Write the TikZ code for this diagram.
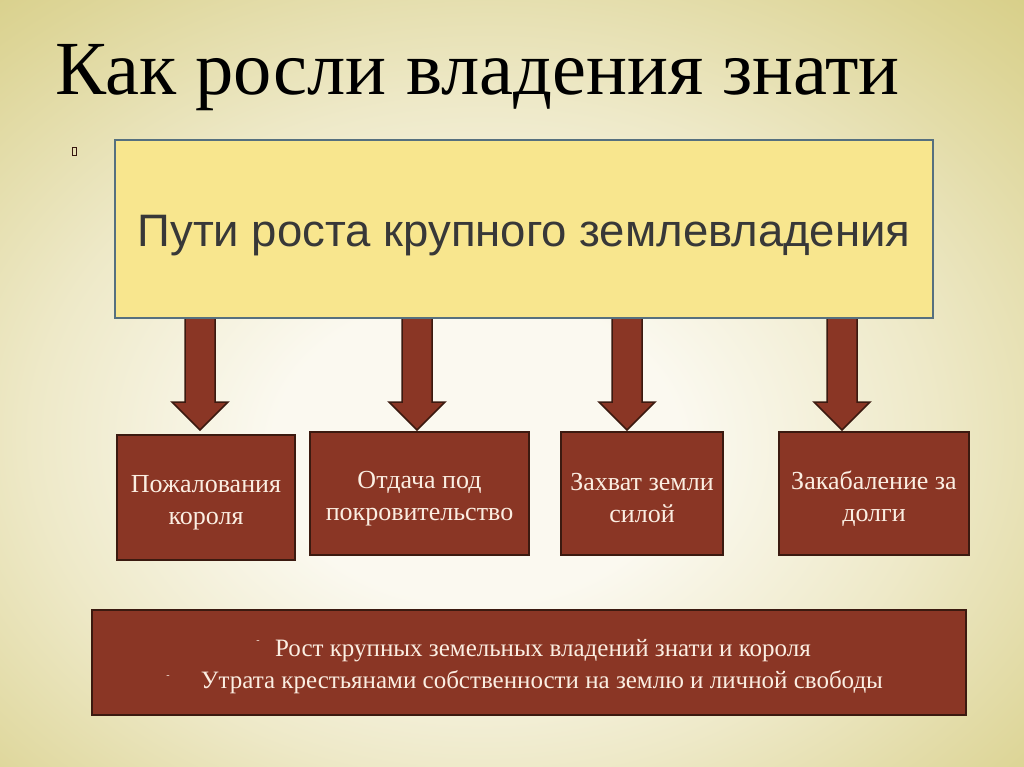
\documentclass[tikz,border=0pt]{standalone}
\usepackage{fontspec}
\setmainfont{Liberation Serif}
\newfontfamily\sansf{Liberation Sans}
\definecolor{bgC}{HTML}{FBF9F0}
\definecolor{bgM}{HTML}{EEE9C8}
\definecolor{bgO}{HTML}{DDD597}
\definecolor{bgE}{HTML}{D0C673}
\definecolor{bgF}{HTML}{CBC066}
\definecolor{topfill}{HTML}{F8E68E}
\definecolor{topline}{HTML}{56707F}
\definecolor{brown}{HTML}{8A3625}
\definecolor{brownline}{HTML}{3B1A10}
\definecolor{boxtext}{HTML}{FBEEE2}
\definecolor{toptext}{HTML}{383838}
\pgfdeclareradialshading{bgshade}{\pgfpoint{-2bp}{-5bp}}{%
  color(0bp)=(bgC); color(10bp)=(bgC); color(22bp)=(bgM); color(34bp)=(bgO); color(44bp)=(bgE); color(52bp)=(bgF); color(72bp)=(bgF)}
\tikzset{
  bbox/.style={draw=brownline, line width=2pt, fill=brown, inner sep=0pt},
  boxlabel/.style={text=boxtext, inner sep=0pt, align=center, font=\fontsize{26}{32}\selectfont},
  barrow/.style={draw=brownline, line width=1.5pt, fill=brown, line join=miter},
  topbox/.style={draw=topline, line width=2.5pt, fill=topfill, inner sep=0pt},
  toplabel/.style={inner sep=0pt, text=toptext, font=\sansf\fontsize{45.5}{50}\selectfont},
  bottomtext/.style={text=boxtext, inner sep=0pt, anchor=base, font=\fontsize{25}{30}\selectfont},
  dashmark/.style={text=boxtext, inner sep=0pt, font=\fontsize{10}{10}\selectfont}
}
\begin{document}
\begin{tikzpicture}[x=1pt,y=-1pt]
\useasboundingbox (0,0) rectangle (1024,767);
\shade[shading=bgshade] (0,0) rectangle (1024,767);
% title
\node[anchor=base west, inner sep=0pt, text=black, font=\fontsize{76.5}{80}\selectfont] (title) at (55,95) {Как росли владения знати};
% small bullet
\draw[draw=black!60!brown, line width=0.8pt] (72,147) rectangle (76,155);
% arrow tips
\coordinate (t1) at (200,430);
\coordinate (t2) at (417,430);
\coordinate (t3) at (627,430);
\coordinate (t4) at (842,430);
\foreach \t in {t1,t2,t3,t4}{
  \draw[barrow] (\t) -- ++(28,-28) -- ++(-13,0) -- ++(0,-84) -- ++(-30,0) -- ++(0,84) -- ++(-13,0) -- cycle;
}
% top box
\node[topbox, minimum width=818, minimum height=178] (top) at (524,229) {};
\node[toplabel] (topt) at ([yshift=-7pt]top.center) {Пути роста крупного землевладения};
% boxes
\node[bbox, minimum width=178, minimum height=125] (b1) at (206,497.5) {};
\node[bbox, minimum width=219, minimum height=123] (b2) at (419.5,493.5) {};
\node[bbox, minimum width=162, minimum height=123] (b3) at (642,493.5) {};
\node[bbox, minimum width=190, minimum height=123] (b4) at (874,493.5) {};
\node[boxlabel] (b1t) at ([yshift=-5pt]b1.center) {Пожалования\\короля};
\node[boxlabel] (b2t) at ([yshift=-5pt]b2.center) {Отдача под\\покровительство};
\node[boxlabel] (b3t) at ([yshift=-5pt]b3.center) {Захват земли\\силой};
\node[boxlabel] (b4t) at ([yshift=-5pt]b4.center) {Закабаление за\\долги};
% bottom box
\node[bbox, minimum width=874, minimum height=105] (bot) at (529,662.5) {};
\node[bottomtext] (l1) at (543,656) {Рост крупных земельных владений знати и короля};
\node[bottomtext] (l2) at (542,688) {Утрата крестьянами собственности на землю и личной свободы};
\node[dashmark] (d1) at (258,642) {-};
\node[dashmark] (d2) at (168,677) {-};
\end{tikzpicture}
\end{document}
